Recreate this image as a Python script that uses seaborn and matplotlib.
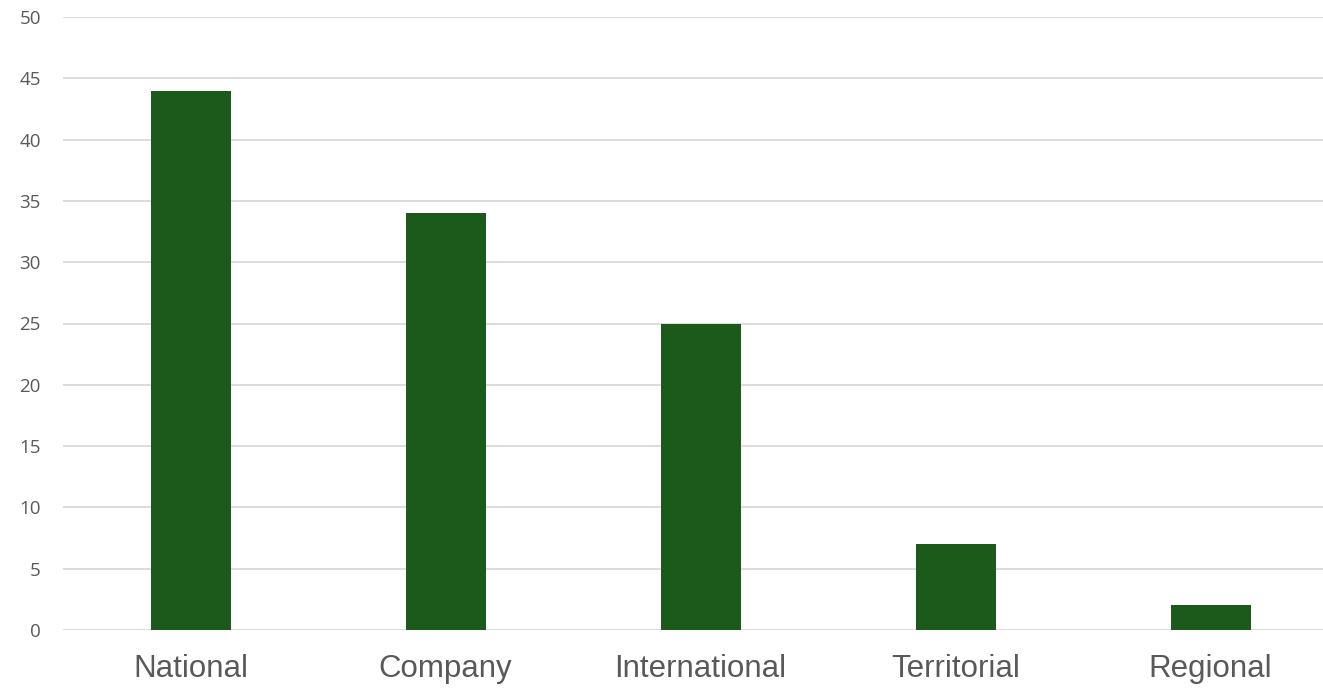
import matplotlib
matplotlib.use("Agg")
import matplotlib.pyplot as plt
import seaborn as sns
import pandas as pd

categories = ["National", "Company", "International", "Territorial", "Regional"]
values = [44, 34, 25, 7, 2]
y_ticks = [0, 5, 10, 15, 20, 25, 30, 35, 40, 45, 50]

sns.set_theme(style="white")
plt.rcParams['font.family'] = ['Open Sans', 'DejaVu Sans']

df = pd.DataFrame({"category": categories, "value": values})

W, H = 1323, 688
fig = plt.figure(figsize=(W / 100, H / 100), dpi=100)
left, right_px = 63, 1323
bottom_px, top_px = 630, 17
ax = fig.add_axes([left / W, 1 - bottom_px / H, (right_px - left) / W, (bottom_px - top_px) / H])

sns.barplot(data=df, x="category", y="value", color="#1B5A1B", saturation=1,
            width=80 / 255, ax=ax, zorder=3, linewidth=0)

ax.set_xlim(-0.5, -0.5 + (right_px - left) / 255)
ax.set_ylim(0, 50)
ax.set_yticks(y_ticks)
ax.set_yticklabels([str(t) for t in y_ticks], fontsize=13.5, color="#595959")
ax.yaxis.grid(True, color="#D9D9D9", linewidth=1.3, zorder=0)
ax.xaxis.grid(False)
for s in ax.spines.values():
    s.set_visible(False)
ax.tick_params(axis="y", length=0, pad=16)
ax.tick_params(axis="x", length=0, pad=17)
for lbl in ax.get_xticklabels():
    lbl.set_fontfamily(["Liberation Sans"])
    lbl.set_fontsize(22.5)
    lbl.set_color("#595959")
ax.set_xlabel("")
ax.set_ylabel("")

fig.savefig("out.png", dpi=100)
